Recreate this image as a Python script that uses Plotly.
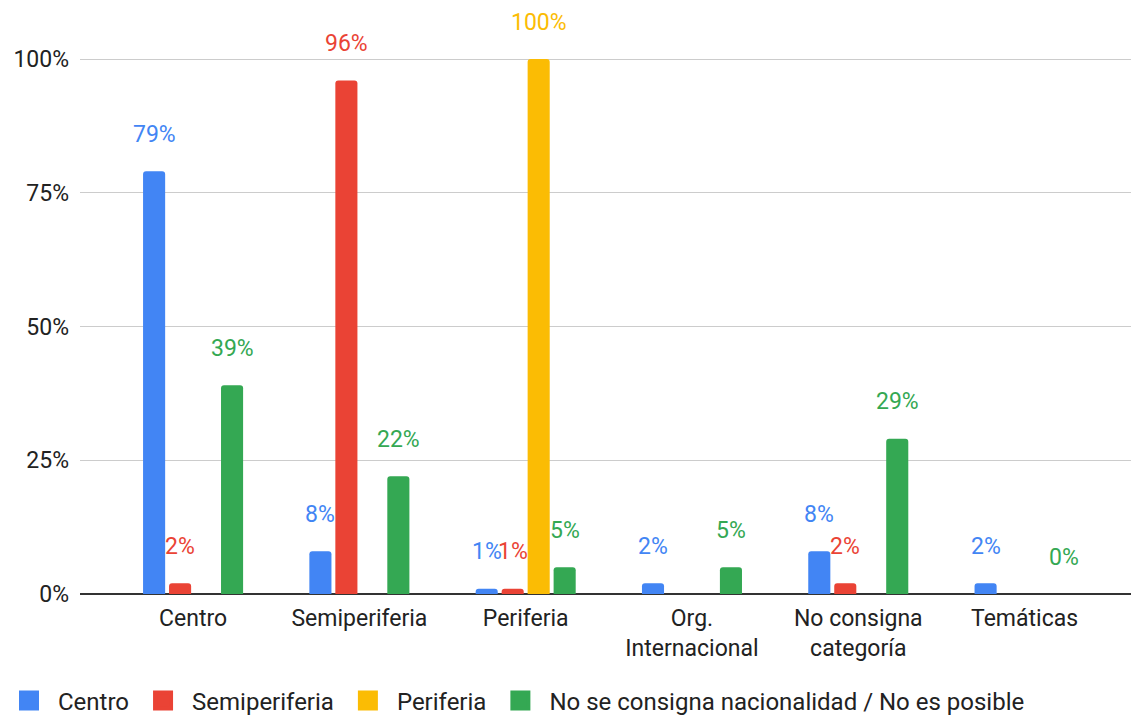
import plotly.graph_objects as go

categories = ["Centro", "Semiperiferia", "Periferia", "Org.<br>Internacional",
              "No consigna<br>categoría", "Temáticas"]
series_names = ["Centro", "Semiperiferia", "Periferia",
                "No se consigna nacionalidad / No es posible"]
centro = [79, 8, 1, 2, 8, 2]
semiperiferia = [2, 96, 1, None, 2, None]
periferia = [None, None, 100, None, None, None]
no_consigna = [39, 22, 5, 5, 29, 0]
colors = ["#4285F4", "#EA4335", "#FBBC04", "#34A853"]
y_ticks = [0, 25, 50, 75, 100]
y_tick_labels = ["0%", "25%", "50%", "75%", "100%"]

series_values = [centro, semiperiferia, periferia, no_consigna]
FONT = "Roboto, Arial, sans-serif"
TXT = "#222222"

fig = go.Figure()
for name, vals, col in zip(series_names, series_values, colors):
    fig.add_trace(go.Bar(
        x=categories, y=vals, name=name, showlegend=False,
        marker=dict(color=col, cornerradius=3, line=dict(width=0)),
    ))

# legend entries drawn as larger square swatches
for name, col in zip(series_names, colors):
    fig.add_trace(go.Scatter(
        x=[None], y=[None], mode="markers", name=name,
        marker=dict(symbol="square", size=16, color=col,
                    line=dict(color=col, width=4)),
    ))

# value labels floating above each bar
n = len(series_values)
slot_px = 26
for si, (vals, col) in enumerate(zip(series_values, colors)):
    shift = (si - (n - 1) / 2) * slot_px
    for cat, v in zip(categories, vals):
        if v is None:
            continue
        fig.add_annotation(
            x=cat, y=v, text=f"{v}%", showarrow=False,
            xshift=shift, yshift=37, yanchor="middle",
            font=dict(family=FONT, size=23, color=col,
                      shadow="0px 0px 2px white"),
        )

fig.update_layout(
    width=1131, height=717,
    margin=dict(l=80, r=0, t=10, b=123, autoexpand=False),
    paper_bgcolor="white", plot_bgcolor="white",
    barmode="group", bargap=0.375, bargroupgap=0.15,
    font=dict(family=FONT, size=23, color=TXT),
    legend=dict(orientation="h", xref="container", yref="container",
                x=-0.009, xanchor="left", y=0.054, yanchor="top",
                font=dict(size=24, color=TXT), itemwidth=48,
                itemsizing="trace", tracegroupgap=0),
    xaxis=dict(range=[-0.68, 5.64], showgrid=False, ticks="", automargin=False,
               tickfont=dict(size=23, color=TXT), showline=False,
               ticklabelstandoff=8),
    yaxis=dict(range=[0, 109.16], tickvals=y_ticks, ticktext=y_tick_labels,
               gridcolor="#cccccc", gridwidth=1, zeroline=True, automargin=False,
               zerolinecolor="#333333", zerolinewidth=2,
               tickfont=dict(size=23, color=TXT), ticklabelstandoff=10),
)

fig.write_html("out.html")
